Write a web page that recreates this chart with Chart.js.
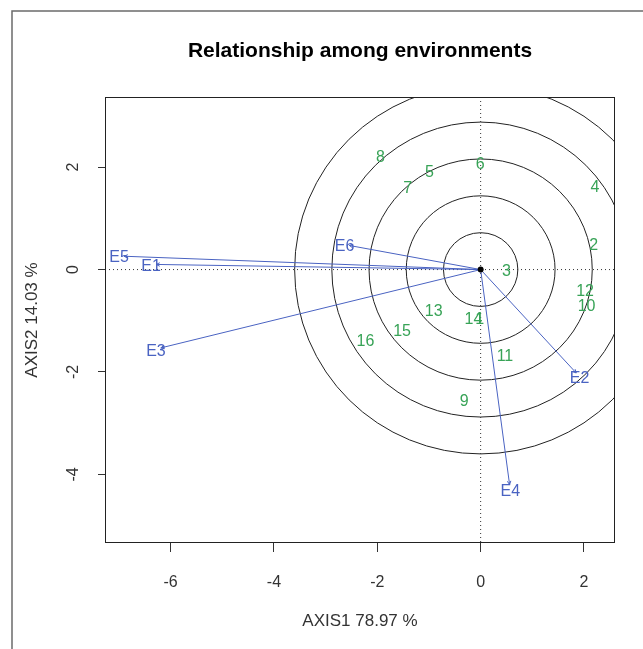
<!DOCTYPE html>
<html>
<head>
<meta charset="utf-8">
<script src="https://cdn.jsdelivr.net/npm/chart.js@4.4.0/dist/chart.umd.min.js"></script>
<style>
    html, body { margin: 0; padding: 0; background: #fff; }
</style>
</head>
<body>
<canvas id="biplot" width="643" height="649"></canvas>
<script>
// Genotypes (green labels)
const genoLabels = ['1', '2', '3', '4', '5', '6', '7', '8', '9', '10', '11', '12', '13', '14', '15', '16'];
const genoX = [-0.02, 2.19, 0.50, 2.21, -0.99, -0.01, -1.41, -1.94, -0.32, 2.05, 0.47, 2.02, -0.91, -0.14, -1.52, -2.23];
const genoY = [-0.94, 0.51, -0.01, 1.64, 1.94, 2.08, 1.63, 2.23, -2.53, -0.68, -1.66, -0.40, -0.79, -0.94, -1.17, -1.37];

// Environments (blue vectors from the origin)
const envLabels = ['E1', 'E2', 'E3', 'E4', 'E5', 'E6'];
const envX = [-6.28, 1.85, -6.19, 0.56, -6.90, -2.54];
const envY = [0.10, -2.02, -1.53, -4.20, 0.26, 0.47];

// Concentric circles around the origin
const circleRadii = [0.72, 1.44, 2.16, 2.88, 3.60];

// Axes
const xTicks = [-6, -4, -2, 0, 2];
const yTicks = [-4, -2, 0, 2];
const xRange = [-7.27, 2.60];
const yRange = [-5.34, 3.37];

const FONT = '"Liberation Sans", Arial, sans-serif';
const BLUE = '#4a63c2';
const GREEN = '#38a357';
const TEXT_DROP = 2;     // R centres strings a little lower than canvas 'middle'
const LABEL_PUSH = 5;    // env labels sit just beyond the arrow tips
const HEAD = 4;          // arrow head length, px

// one dataset per environment vector
const envDatasets = envLabels.map((name, i) => ({
    label: name,
    data: [{ x: 0, y: 0 }, { x: envX[i], y: envY[i] }],
    showLine: true,
    borderColor: BLUE,
    borderWidth: 1,
    pointRadius: 0
}));

// outer frame, plot box, circles and dotted zero lines
const backdropPlugin = {
    id: 'backdrop',
    beforeDraw(chart) {
        const ctx = chart.ctx;
        ctx.save();
        ctx.strokeStyle = '#6b6b6b';
        ctx.lineWidth = 1.5;
        ctx.beginPath();
        ctx.moveTo(12, chart.height);
        ctx.lineTo(12, 11);
        ctx.lineTo(chart.width, 11);
        ctx.stroke();
        ctx.restore();
    },
    beforeDatasetsDraw(chart) {
        const { ctx, chartArea: a, scales: { x, y } } = chart;
        const cx = x.getPixelForValue(0);
        const cy = y.getPixelForValue(0);
        ctx.save();
        ctx.beginPath();
        ctx.rect(a.left, a.top, a.right - a.left, a.bottom - a.top);
        ctx.clip();

        ctx.strokeStyle = '#222';
        ctx.lineWidth = 1;
        circleRadii.forEach(r => {
            const rx = x.getPixelForValue(r) - cx;
            const ry = cy - y.getPixelForValue(r);
            ctx.beginPath();
            ctx.ellipse(cx, cy, rx, ry, 0, 0, Math.PI * 2);
            ctx.stroke();
        });

        ctx.setLineDash([1, 3]);
        ctx.strokeStyle = '#333';
        ctx.beginPath();
        ctx.moveTo(a.left, cy);
        ctx.lineTo(a.right, cy);
        ctx.moveTo(cx, a.top);
        ctx.lineTo(cx, a.bottom);
        ctx.stroke();
        ctx.restore();
    },
    afterDatasetsDraw(chart) {
        const { ctx, chartArea: a, scales: { x, y } } = chart;
        const cx = x.getPixelForValue(0);
        const cy = y.getPixelForValue(0);
        ctx.save();

        // small arrow heads at the end of each vector
        ctx.strokeStyle = BLUE;
        ctx.lineWidth = 1;
        envLabels.forEach((name, i) => {
            const px = x.getPixelForValue(envX[i]);
            const py = y.getPixelForValue(envY[i]);
            const ang = Math.atan2(py - cy, px - cx);
            ctx.beginPath();
            ctx.moveTo(px - HEAD * Math.cos(ang - 0.45), py - HEAD * Math.sin(ang - 0.45));
            ctx.lineTo(px, py);
            ctx.lineTo(px - HEAD * Math.cos(ang + 0.45), py - HEAD * Math.sin(ang + 0.45));
            ctx.stroke();
        });

        // origin
        ctx.fillStyle = '#000';
        ctx.beginPath();
        ctx.arc(cx, cy, 3, 0, Math.PI * 2);
        ctx.fill();

        ctx.font = '16px ' + FONT;
        ctx.textAlign = 'center';
        ctx.textBaseline = 'middle';
        ctx.fillStyle = GREEN;
        genoLabels.forEach((g, i) => {
            ctx.fillText(g, x.getPixelForValue(genoX[i]), y.getPixelForValue(genoY[i]) + TEXT_DROP);
        });
        ctx.fillStyle = BLUE;
        envLabels.forEach((name, i) => {
            const px = x.getPixelForValue(envX[i]);
            const py = y.getPixelForValue(envY[i]);
            const ang = Math.atan2(py - cy, px - cx);
            ctx.fillText(name, px + LABEL_PUSH * Math.cos(ang), py + LABEL_PUSH * Math.sin(ang) + TEXT_DROP);
        });

        // plot box
        ctx.strokeStyle = '#222';
        ctx.lineWidth = 1;
        ctx.strokeRect(a.left + 0.5, a.top + 0.5, a.right - a.left - 1, a.bottom - a.top - 1);
        ctx.restore();
    }
};

const ctx = document.getElementById('biplot').getContext('2d');
const chart = new Chart(ctx, {
    type: 'scatter',
    data: { datasets: envDatasets },
    options: {
        responsive: false,
        animation: false,
        events: [],
        layout: { padding: { left: 0, right: 28, top: 0, bottom: 0 } },
        scales: {
            x: {
                type: 'linear',
                min: xRange[0],
                max: xRange[1],
                afterFit: s => { s.height = 106; },
                afterBuildTicks: s => { s.ticks = xTicks.map(v => ({ value: v })); },
                border: { display: false },
                grid: { drawOnChartArea: false, drawTicks: true, tickLength: 9, color: '#333' },
                ticks: { color: '#333', padding: 21, font: { family: FONT, size: 16 } },
                title: {
                    display: true,
                    text: 'AXIS1 78.97 %',
                    color: '#333',
                    font: { family: FONT, size: 17 },
                    padding: { top: 0, bottom: 17 }
                }
            },
            y: {
                type: 'linear',
                min: yRange[0],
                max: yRange[1],
                afterFit: s => { s.width = 105; },
                afterBuildTicks: s => { s.ticks = yTicks.map(v => ({ value: v })); },
                border: { display: false },
                grid: { drawOnChartArea: false, drawTicks: true, tickLength: 7, color: '#333' },
                ticks: {
                    color: '#333',
                    padding: 17,
                    minRotation: 90,
                    maxRotation: 90,
                    crossAlign: 'center',
                    font: { family: FONT, size: 16 }
                },
                title: {
                    display: true,
                    text: 'AXIS2 14.03 %',
                    color: '#333',
                    font: { family: FONT, size: 17 },
                    padding: { top: 22, bottom: 0 }
                }
            }
        },
        plugins: {
            legend: { display: false },
            tooltip: { enabled: false },
            title: {
                display: true,
                text: 'Relationship among environments',
                fullSize: false,
                color: '#000',
                font: { family: FONT, size: 21, weight: 'bold' },
                padding: { top: 39, bottom: 32.8 }
            }
        }
    },
    plugins: [backdropPlugin]
});
</script>
</body>
</html>
